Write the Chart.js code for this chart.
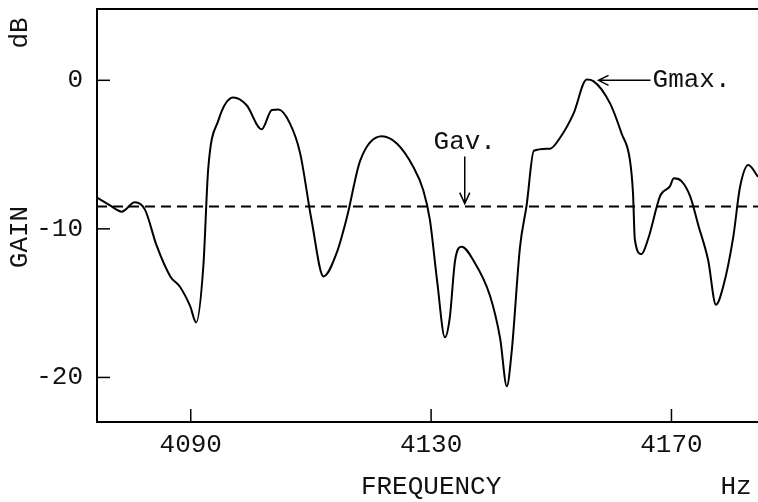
<!DOCTYPE html>
<html>
<head>
<meta charset="utf-8">
<script src="https://cdn.jsdelivr.net/npm/chart.js@4.4.1/dist/chart.umd.min.js"></script>
<style>
  html, body { margin: 0; padding: 0; background: #fff; }
  #wrap { width: 758px; height: 502px; position: relative; }
</style>
</head>
<body>
<div id="wrap"><canvas id="myChart"></canvas></div>
<script>
// Gain curve (frequency in Hz, gain in dB)
var freq = [4074.4, 4076.5, 4078.5, 4080.7, 4082.4, 4084.3, 4086.6, 4088.2, 4089.9, 4090.9,
  4092.1, 4092.9, 4094.6, 4097.1, 4099.3, 4101.8, 4103.5, 4104.6, 4106.5, 4108.2,
  4110.1, 4112.1, 4114.3, 4116.0, 4118.2, 4121.8, 4124.3, 4127.0, 4128.7, 4129.8,
  4131.0, 4132.3, 4133.1, 4134.0, 4135.1, 4137.0, 4139.8, 4141.5, 4142.6, 4143.4,
  4144.8, 4145.9, 4147.1, 4149.8, 4151.4, 4153.7, 4155.9, 4157.0, 4159.8, 4161.7,
  4163.1, 4163.6, 4163.9, 4165.0, 4166.1, 4168.1, 4168.6, 4169.7, 4170.4, 4171.7,
  4173.1, 4174.5, 4176.1, 4177.4, 4178.6, 4180.3, 4181.4, 4182.8, 4184.4];
var gain = [-7.9, -8.4, -8.84, -8.21, -8.72, -11.1, -13.2, -13.9, -15.2, -16.3,
  -12.5, -6.0, -2.7, -1.16, -1.68, -3.3, -2.0, -1.97, -2.9, -4.9,
  -9.4, -13.2, -11.6, -9.2, -5.4, -3.76, -4.25, -5.8, -7.4, -9.4,
  -13.5, -17.3, -16.0, -12.1, -11.2, -12.1, -14.5, -17.4, -20.6, -18.3,
  -11.2, -8.4, -4.74, -4.6, -3.9, -2.24, 0.05, -0.05, -1.57, -3.58,
  -5.4, -7.6, -10.7, -11.7, -10.7, -7.8, -7.5, -7.16, -6.6, -6.8,
  -7.8, -9.8, -12.1, -15.1, -13.9, -10.5, -7.2, -5.7, -6.5];

// Average gain line and axis ticks
var gAv = -8.5;
var xRange = [4074.4, 4184.4];
var yRange = [-23, 4.8];
var xTicks = [4090, 4130, 4170];
var yTicks = [-20, -10, 0];

var FONT = "'Liberation Mono', 'DejaVu Sans Mono', monospace";
var FSIZE = 26;

var points = [];
for (var i = 0; i < freq.length; i++) points.push({ x: freq[i], y: gain[i] });

// Draws the frame, inward ticks, axis names and the Gmax / Gav notes
var decor = {
  id: 'decor',
  afterDraw: function(chart) {
    var ctx = chart.ctx;
    var a = chart.chartArea;
    var xs = chart.scales.x, ys = chart.scales.y;
    ctx.save();
    ctx.strokeStyle = '#000';
    ctx.lineWidth = 2;
    ctx.beginPath();
    ctx.moveTo(a.right, a.top); ctx.lineTo(a.left, a.top);
    ctx.lineTo(a.left, a.bottom); ctx.lineTo(a.right, a.bottom);
    ctx.stroke();

    ctx.lineWidth = 1.5;
    yTicks.forEach(function(v) {
      var p = ys.getPixelForValue(v);
      ctx.beginPath(); ctx.moveTo(a.left, p); ctx.lineTo(a.left + 13, p); ctx.stroke();
    });
    xTicks.forEach(function(v) {
      var p = xs.getPixelForValue(v);
      ctx.beginPath(); ctx.moveTo(p, a.bottom); ctx.lineTo(p, a.bottom - 13); ctx.stroke();
    });

    ctx.fillStyle = '#111';
    ctx.font = FSIZE + 'px ' + FONT;
    ctx.textBaseline = 'middle';
    ctx.textAlign = 'center';
    ctx.fillText('FREQUENCY', xs.getPixelForValue(4130), 487);
    ctx.fillText('Hz', 736, 487);

    ctx.save();
    ctx.translate(20, 237);
    ctx.rotate(-Math.PI / 2);
    ctx.fillText('GAIN', 0, 0);
    ctx.restore();
    ctx.save();
    ctx.translate(20, 33);
    ctx.rotate(-Math.PI / 2);
    ctx.fillText('dB', 0, 0);
    ctx.restore();

    // Gmax. note with arrow to the peak
    var px = xs.getPixelForValue(4156.2), py = ys.getPixelForValue(0);
    ctx.textAlign = 'left';
    ctx.fillText('Gmax.', px + 64, py);
    ctx.beginPath();
    ctx.moveTo(px + 62, py); ctx.lineTo(px + 10, py);
    ctx.moveTo(px + 20, py - 5); ctx.lineTo(px + 10, py); ctx.lineTo(px + 20, py + 5);
    ctx.stroke();

    // Gav. note with arrow down to the average line
    var gx = xs.getPixelForValue(4135.6), gy = ys.getPixelForValue(gAv);
    ctx.textAlign = 'center';
    ctx.fillText('Gav.', gx, gy - 64);
    ctx.beginPath();
    ctx.moveTo(gx, gy - 50); ctx.lineTo(gx, gy - 3);
    ctx.moveTo(gx - 5, gy - 14); ctx.lineTo(gx, gy - 3); ctx.lineTo(gx + 5, gy - 14);
    ctx.stroke();
    ctx.restore();
  }
};

var chart = new Chart('myChart', {
  type: 'line',
  data: {
    datasets: [{
      data: points,
      borderColor: '#000',
      borderWidth: 2,
      pointRadius: 0,
      cubicInterpolationMode: 'monotone',
      fill: false
    }, {
      data: [{ x: xRange[0], y: gAv }, { x: xRange[1], y: gAv }],
      borderColor: '#000',
      borderWidth: 2,
      borderDash: [10, 6],
      pointRadius: 0,
      fill: false
    }]
  },
  options: {
    responsive: true,
    maintainAspectRatio: false,
    animation: false,
    events: [],
    layout: { padding: { top: 9, right: 0, left: 0, bottom: 0 } },
    plugins: { legend: { display: false }, tooltip: { enabled: false } },
    scales: {
      x: {
        type: 'linear',
        min: xRange[0],
        max: xRange[1],
        afterBuildTicks: function(s) { s.ticks = xTicks.map(function(v) { return { value: v }; }); },
        afterFit: function(s) { s.height = 80; s.paddingLeft = 0; s.paddingRight = 0; },
        grid: { display: false },
        border: { display: false },
        ticks: {
          color: '#111',
          padding: 0,
          maxRotation: 0,
          font: { family: FONT, size: FSIZE },
          callback: function(v) { return String(v); }
        }
      },
      y: {
        min: yRange[0],
        max: yRange[1],
        afterBuildTicks: function(s) { s.ticks = yTicks.map(function(v) { return { value: v }; }); },
        afterFit: function(s) { s.width = 97; s.paddingTop = 0; s.paddingBottom = 0; },
        grid: { display: false },
        border: { display: false },
        ticks: {
          color: '#111',
          padding: 6,
          font: { family: FONT, size: FSIZE },
          callback: function(v) { return String(v); }
        }
      }
    }
  },
  plugins: [decor]
});
</script>
</body>
</html>
